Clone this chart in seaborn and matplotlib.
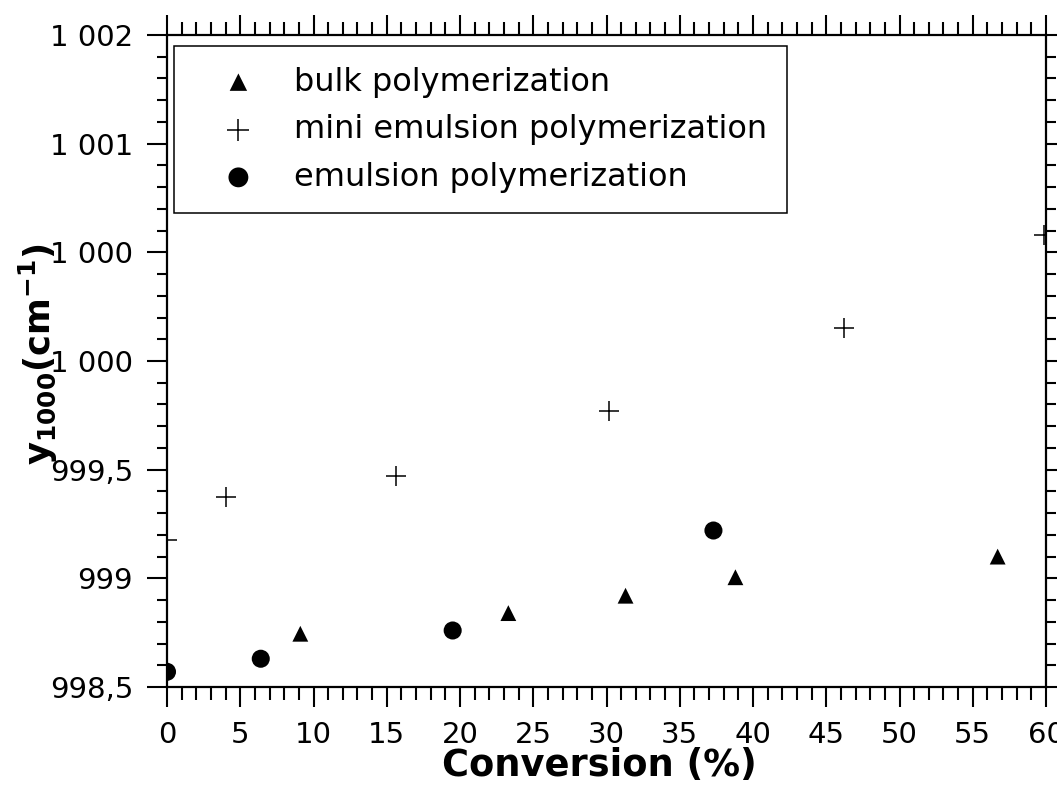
import matplotlib
matplotlib.use("Agg")
import matplotlib.pyplot as plt
from matplotlib.ticker import MultipleLocator
import seaborn as sns

# values
bulk_x = [9.1, 23.3, 31.3, 38.8, 56.7]
bulk_y = [998.745, 998.84, 998.92, 999.005, 999.10]

mini_x = [0.0, 4.0, 15.6, 30.2, 46.2, 59.85]
mini_y = [999.175, 999.375, 999.47, 999.77, 1000.15, 1000.58]

emul_x = [0.0, 6.4, 19.5, 37.3]
emul_y = [998.57, 998.63, 998.76, 999.22]

x_ticks = [0, 5, 10, 15, 20, 25, 30, 35, 40, 45, 50, 55, 60]
y_ticks = [998.5, 999.0, 999.5, 1000.0, 1000.5, 1001.0, 1001.5]
y_tick_labels = ["998,5", "999", "999,5", "1 000", "1 000", "1 001", "1 002"]

sns.set_style("ticks")
plt.rcParams["font.family"] = ["DejaVu Sans"]
plt.rcParams["mathtext.fontset"] = "dejavusans"
plt.rcParams["text.color"] = "black"
plt.rcParams["axes.labelcolor"] = "black"

fig = plt.figure(figsize=(10.57, 7.92), dpi=100)
ax = fig.add_axes([167 / 1057, 105 / 792, 879 / 1057, 652 / 792])

sns.scatterplot(x=bulk_x, y=bulk_y, marker="^", s=130, color="black",
                edgecolor="none", label="bulk polymerization", ax=ax)
sns.scatterplot(x=mini_x, y=mini_y, marker="+", s=225, color="black",
                linewidth=1.1, label="mini emulsion polymerization", ax=ax)
sns.scatterplot(x=emul_x, y=emul_y, marker="o", s=169, color="black",
                edgecolor="none", label="emulsion polymerization", ax=ax)

ax.set_xlim(0, 60)
ax.set_ylim(998.5, 1001.5)
ax.set_xticks(x_ticks)
ax.set_yticks(y_ticks, labels=y_tick_labels)
ax.xaxis.set_minor_locator(MultipleLocator(1))
ax.yaxis.set_minor_locator(MultipleLocator(0.1))

for side in ["left", "right", "top", "bottom"]:
    ax.spines[side].set_visible(True)
    ax.spines[side].set_linewidth(1.6)
    ax.spines[side].set_color("black")

ax.tick_params(which="both", direction="out", top=True, right=True,
               color="black", width=1.5)
ax.tick_params(which="major", length=14.4, pad=10, labelsize=21,
               labelcolor="black")
ax.tick_params(axis="x", which="minor", length=9.5)
ax.tick_params(axis="y", which="minor", length=7.5)

ax.set_xlabel("Conversion (%)", fontsize=26.5, fontweight="bold")
ax.set_ylabel(r"$\mathbf{y_{1000}(cm^{-1})}$", fontsize=25.5)
ax.xaxis.set_label_coords(0.492, -0.092)
ax.yaxis.set_label_coords(-0.122, 0.51)

leg = ax.legend(loc="upper left", bbox_to_anchor=(0.008, 0.983),
                borderaxespad=0, fontsize=23, frameon=True, fancybox=False,
                edgecolor="black", framealpha=1, borderpad=0.64,
                labelspacing=0.52, handlelength=2.75, handletextpad=0.35,
                markerscale=1.1)
leg.get_frame().set_linewidth(1.1)

fig.savefig("out.png", dpi=100)
